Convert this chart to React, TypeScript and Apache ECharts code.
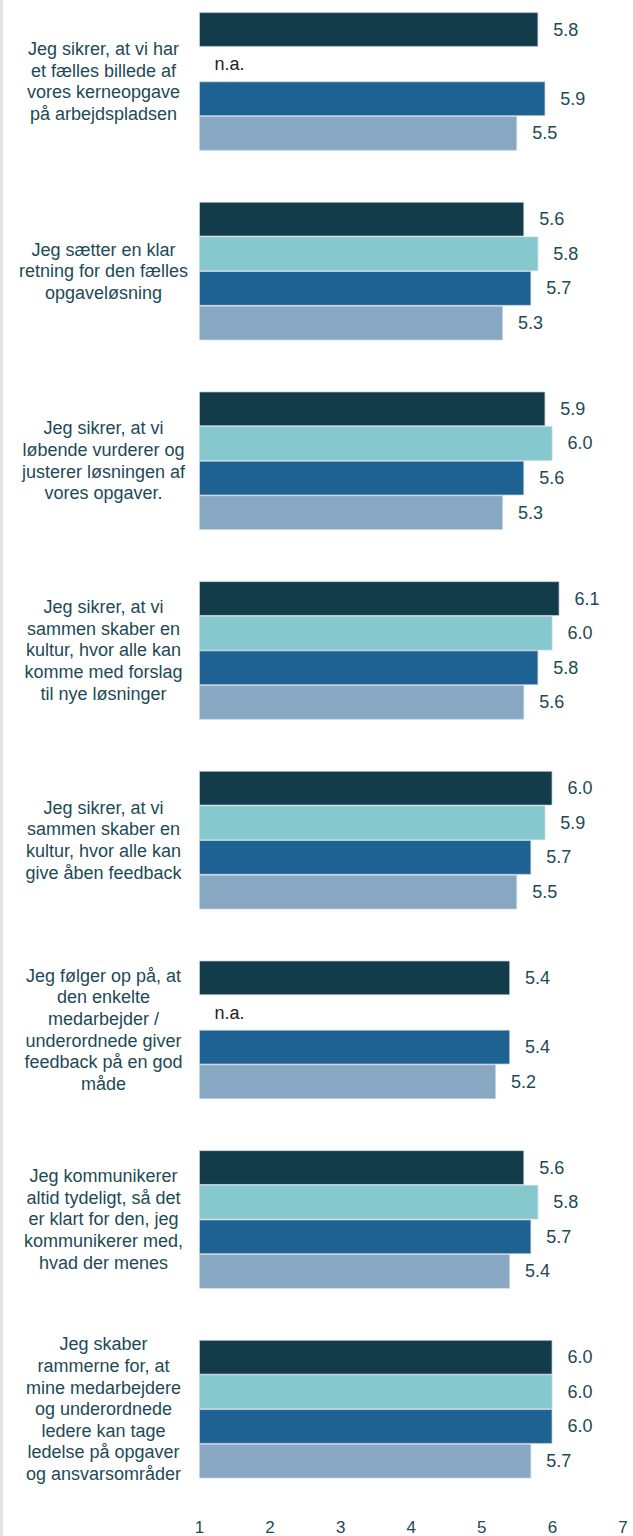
import React, { useEffect, useRef } from "react";
import * as echarts from "echarts";

const categories: string[] = [
  "Jeg sikrer, at vi har\net fælles billede af\nvores kerneopgave\npå arbejdspladsen",
  "Jeg sætter en klar\nretning for den fælles\nopgaveløsning",
  "Jeg sikrer, at vi\nløbende vurderer og\njusterer løsningen af\nvores opgaver.",
  "Jeg sikrer, at vi\nsammen skaber en\nkultur, hvor alle kan\nkomme med forslag\ntil nye løsninger",
  "Jeg sikrer, at vi\nsammen skaber en\nkultur, hvor alle kan\ngive åben feedback",
  "Jeg følger op på, at\nden enkelte\nmedarbejder /\nunderordnede giver\nfeedback på en god\nmåde",
  "Jeg kommunikerer\naltid tydeligt, så det\ner klart for den, jeg\nkommunikerer med,\nhvad der menes",
  "Jeg skaber\nrammerne for, at\nmine medarbejdere\nog underordnede\nledere kan tage\nledelse på opgaver\nog ansvarsområder",
];

// null = n.a.
const series1: (number | null)[] = [5.8, 5.6, 5.9, 6.1, 6.0, 5.4, 5.6, 6.0];
const series2: (number | null)[] = [null, 5.8, 6.0, 6.0, 5.9, null, 5.8, 6.0];
const series3: (number | null)[] = [5.9, 5.7, 5.6, 5.8, 5.7, 5.4, 5.7, 6.0];
const series4: (number | null)[] = [5.5, 5.3, 5.3, 5.6, 5.5, 5.2, 5.4, 5.7];

const seriesColors = ["#133c4a", "#85c9cf", "#1e6294", "#88a7c2"];
const xMin = 1;
const xMax = 7;
const textColor = "#1d4a56";
const fontFamily = "'Liberation Sans', Arial, sans-serif";

export default function App() {
  const ref = useRef<HTMLDivElement>(null);

  useEffect(() => {
    if (!ref.current) return;
    const chart = echarts.init(ref.current, undefined, { renderer: "svg" });
    const all = [series1, series2, series3, series4];
    const series = all.map((vals, si) => ({
      type: "bar",
      name: "s" + si,
      barGap: "0%",
      barCategoryGap: "27%",
      data: vals.map((v) =>
        v === null
          ? {
              value: xMin,
              itemStyle: { borderWidth: 0, color: "rgba(0,0,0,0)" },
              label: { formatter: "n.a.", color: "#222222" },
            }
          : { value: v }
      ),
      itemStyle: {
        color: seriesColors[si],
        borderColor: "rgba(200,212,220,0.9)",
        borderWidth: 0.8,
      },
      label: {
        show: true,
        position: "right",
        distance: 15,
        color: textColor,
        fontSize: 18,
        fontFamily,
        formatter: (p: any) => Number(p.value).toFixed(1),
      },
    }));

    chart.setOption({
      animation: false,
      backgroundColor: "#ffffff",
      grid: { left: 199.5, right: 10, top: 0.6, bottom: 32, containLabel: false },
      xAxis: {
        type: "value",
        min: xMin,
        max: xMax,
        interval: 1,
        axisLine: { show: false },
        axisTick: { show: false },
        splitLine: { show: false },
        axisLabel: {
          color: textColor,
          fontSize: 17,
          margin: 15,
          fontFamily,
        },
      },
      yAxis: {
        type: "category",
        inverse: true,
        data: categories,
        axisLine: { show: false },
        axisTick: { show: false },
        splitLine: { show: false },
        axisLabel: {
          align: "center",
          margin: 96,
          color: textColor,
          fontSize: 18,
          lineHeight: 21.6,
          fontFamily,
        },
      },
      graphic: [
        {
          type: "rect",
          left: 0,
          top: 0,
          shape: { x: 0, y: 0, width: 3, height: 1560 },
          style: { fill: "#dde6ea" },
          silent: true,
        },
      ],
      series,
    });
    return () => chart.dispose();
  }, []);

  return (
    <div
      ref={ref}
      style={{ position: "fixed", left: 0, top: -14, width: 633, height: 1550 }}
    />
  );
}
